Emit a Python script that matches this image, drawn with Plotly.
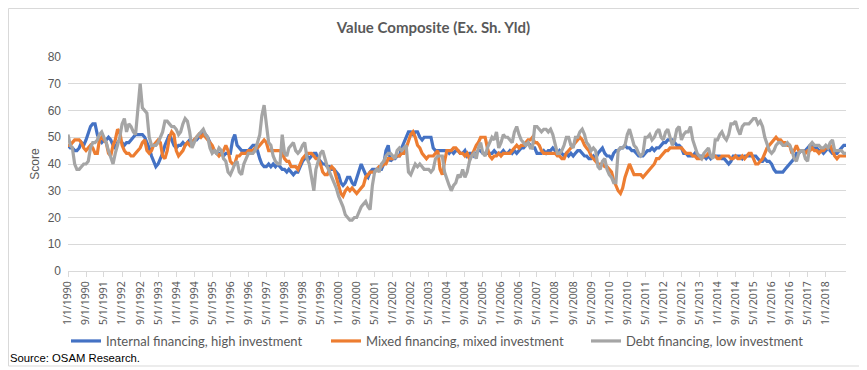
import pandas as pd
import plotly.graph_objects as go

title = "Value Composite (Ex. Sh. Yld)"
series_names = ["Internal financing, high investment",
                "Mixed financing, mixed investment",
                "Debt financing, low investment"]
colors = ["#4472C4", "#ED7D31", "#A5A5A5"]
start_month = "1990-01-01"
last_tick = "2018-01-01"

internal = [
    47, 46, 46, 45, 45, 46, 48, 47, 49, 52, 54, 55,
    55, 51, 49, 48, 49, 49, 50, 49, 47, 46, 48, 49,
    48, 47, 48, 48, 49, 50, 51, 51, 51, 51, 50, 48,
    46, 43, 41, 39, 40, 42, 44, 47, 49, 51, 49, 47,
    46, 47, 47, 48, 47, 48, 49, 48, 49, 49, 50, 51,
    52, 51, 50, 48, 46, 45, 44, 44, 44, 43, 44, 44,
    44, 49, 51, 47, 46, 45, 45, 45, 45, 46, 47, 47,
    45, 42, 40, 39, 39, 40, 39, 40, 39, 40, 39, 38,
    38, 37, 38, 37, 36, 37, 37, 39, 41, 42, 43, 42,
    43, 44, 44, 42, 41, 40, 40, 39, 39, 38, 38, 37,
    36, 33, 32, 33, 35, 35, 33, 32, 35, 38, 40, 38,
    36, 35, 37, 38, 38, 38, 38, 38, 40, 45, 47, 41,
    42, 42, 43, 43, 46, 48, 50, 52, 52, 51, 52, 52,
    50, 49, 50, 50, 50, 50, 46, 45, 45, 45, 45, 45,
    45, 44, 45, 44, 45, 45, 44, 44, 45, 43, 44, 44,
    43, 44, 45, 45, 44, 44, 44, 44, 44, 45, 44, 44,
    44, 45, 44, 44, 45, 44, 45, 44, 45, 46, 46, 47,
    48, 47, 46, 46, 44, 44, 44, 45, 44, 45, 45, 46,
    45, 44, 45, 44, 43, 44, 43, 44, 43, 44, 45, 45,
    44, 43, 43, 42, 42, 43, 42, 44, 45, 46, 44, 43,
    43, 42, 44, 45, 45, 46, 46, 47, 46, 46, 45, 45,
    44, 43, 43, 43, 44, 45, 45, 46, 45, 46, 46, 47,
    48, 48, 49, 49, 49, 48, 47, 47, 46, 44, 44, 43,
    43, 43, 44, 43, 43, 43, 43, 42, 43, 42, 43, 43,
    43, 43, 42, 42, 41, 40, 41, 43, 43, 43, 43, 42,
    43, 43, 43, 43, 43, 43, 42, 41, 41, 42, 41, 41,
    40, 38, 37, 37, 37, 37, 38, 39, 40, 41, 42, 44,
    44, 45, 45, 45, 46, 47, 47, 46, 46, 45, 45, 44,
    45, 46, 45, 44, 44, 44, 45, 46, 47, 47,
]

mixed = [
    47, 47, 48, 49, 49, 49, 48, 46, 45, 46, 47, 46,
    44, 44, 49, 50, 49, 48, 44, 43, 47, 49, 53, 52,
    47, 45, 44, 44, 43, 43, 44, 45, 46, 48, 49, 45,
    44, 45, 47, 48, 49, 48, 43, 42, 45, 50, 52, 51,
    45, 43, 44, 45, 47, 48, 47, 48, 49, 50, 51, 50,
    51, 50, 49, 48, 47, 45, 44, 43, 44, 45, 47, 45,
    41, 40, 40, 43, 43, 44, 44, 44, 45, 45, 45, 46,
    46, 47, 48, 49, 48, 45, 45, 45, 45, 45, 45, 44,
    42, 41, 41, 39, 39, 39, 38, 40, 42, 43, 44, 44,
    44, 43, 42, 42, 40, 37, 36, 36, 38, 39, 38, 35,
    32, 29, 28, 30, 31, 30, 31, 30, 29, 30, 31, 32,
    35, 36, 37, 37, 37, 38, 39, 39, 40, 40, 42, 42,
    42, 43, 43, 43, 44, 44, 46, 49, 51, 52, 50, 47,
    46, 44, 43, 42, 43, 43, 43, 44, 45, 38, 36, 41,
    45, 45, 45, 46, 46, 45, 44, 44, 43, 44, 42, 43,
    45, 47, 48, 50, 50, 50, 46, 43, 42, 43, 43, 44,
    43, 44, 44, 44, 44, 45, 46, 47, 46, 47, 47, 48,
    49, 49, 50, 48, 48, 47, 45, 44, 44, 44, 44, 44,
    44, 43, 43, 42, 42, 44, 45, 46, 47, 48, 49, 50,
    49, 47, 46, 45, 43, 42, 41, 40, 40, 40, 39, 39,
    38, 37, 34, 32, 30, 29, 31, 35, 38, 40, 38, 36,
    36, 36, 36, 35, 36, 37, 38, 39, 40, 42, 42, 43,
    44, 45, 45, 46, 46, 46, 46, 46, 46, 45, 44, 44,
    44, 43, 43, 42, 42, 42, 43, 43, 44, 43, 43, 43,
    42, 42, 43, 43, 43, 43, 42, 42, 43, 42, 42, 43,
    42, 43, 44, 44, 42, 40, 40, 41, 42, 44, 46, 47,
    48, 49, 50, 49, 49, 48, 48, 47, 47, 44, 45, 47,
    45, 45, 45, 44, 45, 45, 46, 45, 45, 44, 45, 45,
    46, 46, 47, 45, 43, 42, 43, 43, 43, 43,
]

debt = [
    51, 47, 46, 40, 38, 38, 39, 40, 40, 41, 46, 48,
    48, 49, 51, 52, 50, 48, 45, 42, 40, 44, 47, 50,
    55, 57, 52, 55, 54, 52, 51, 62, 70, 61, 60, 59,
    50, 47, 47, 47, 48, 50, 52, 56, 56, 55, 54, 54,
    53, 51, 52, 55, 57, 56, 52, 46, 48, 50, 51, 52,
    53, 51, 50, 46, 44, 45, 44, 46, 45, 42, 41, 37,
    36, 38, 40, 41, 37, 36, 40, 42, 44, 44, 44, 45,
    48, 51, 58, 62, 55, 48, 47, 43, 41, 40, 40, 51,
    44, 43, 46, 47, 48, 45, 44, 45, 47, 48, 42, 40,
    34, 30, 38, 41, 44, 45, 42, 39, 37, 35, 33, 31,
    28, 26, 24, 21, 20, 19, 19, 20, 20, 22, 24, 25,
    26, 24, 23, 32, 37, 38, 37, 40, 41, 43, 44, 44,
    43, 42, 45, 46, 45, 46, 47, 37, 36, 38, 40, 39,
    40, 39, 38, 38, 38, 37, 38, 42, 43, 43, 43, 37,
    34, 32, 30, 32, 33, 36, 35, 38, 35, 37, 41, 43,
    44, 42, 46, 48, 44, 43, 46, 48, 50, 49, 52, 46,
    48, 51, 50, 50, 49, 48, 52, 54, 51, 49, 48, 47,
    48, 46, 46, 54, 54, 53, 52, 53, 53, 52, 53, 51,
    47, 44, 44, 45, 47, 50, 50, 47, 46, 50, 50, 52,
    53, 51, 48, 47, 45, 46, 45, 39, 38, 41, 42, 38,
    36, 35, 33, 33, 45, 46, 46, 47, 51, 53, 50, 47,
    46, 44, 43, 44, 50, 50, 51, 49, 50, 52, 53, 50,
    49, 52, 53, 50, 47, 49, 53, 54, 49, 51, 52, 52,
    54, 49, 47, 44, 43, 42, 44, 45, 46, 43, 42, 49,
    49, 51, 52, 50, 49, 51, 55, 55, 56, 53, 51, 54,
    55, 55, 55, 56, 57, 57, 55, 56, 54, 50, 47, 45,
    44, 45, 47, 48, 48, 47, 47, 48, 47, 45, 42, 41,
    44, 45, 45, 42, 41, 47, 48, 47, 47, 47, 46, 46,
    47, 46, 48, 49, 45, 45, 45, 45, 44, 44,
]

dates = pd.date_range(start_month, periods=len(internal), freq="MS")
tick_dates = pd.date_range(start_month, last_tick, freq="8MS")
tick_text = [f"{d.month}/{d.day}/{d.year}" for d in tick_dates]

fig = go.Figure()
for name, vals, col in zip(series_names, [internal, mixed, debt], colors):
    fig.add_trace(go.Scatter(
        x=dates, y=vals, name=name, mode="lines",
        line=dict(color=col, width=3.2),
    ))

# The page body has an 8px margin: the figure's origin sits at page (8, 8).
OFF = 8
W, H = 867 - OFF, 370 - OFF
L, R, T, B = 68 - OFF, 21, 57 - OFF, 99
pw = W - L - R
ph = H - T - B

def px_x(x_page):
    return (x_page - OFF - L) / pw

def px_y(y_page):
    return (H - B - (y_page - OFF)) / ph

grey_txt = "#595959"
fig.update_layout(
    width=W, height=H,
    margin=dict(l=L, r=R, t=T, b=B, autoexpand=False),
    paper_bgcolor="white", plot_bgcolor="white",
    title=dict(text=f"<b>{title}</b>", x=(433.5 - OFF) / W, xanchor="center",
               y=1 - (28 - OFF) / H, yanchor="middle",
               font=dict(family="Lato, Open Sans, sans-serif", size=15, color=grey_txt)),
    showlegend=True,
    legend=dict(orientation="h", x=px_x(66), xanchor="left",
                y=px_y(341), yanchor="middle",
                entrywidth=215, entrywidthmode="pixels",
                font=dict(family="Lato, Open Sans, sans-serif", size=13, color=grey_txt),
                bgcolor="rgba(0,0,0,0)", itemwidth=30),
    xaxis=dict(
        type="date",
        range=[dates[0], dates[-1]],
        tickvals=tick_dates, ticktext=tick_text,
        tickangle=-90,
        ticks="outside", ticklen=5, tickcolor="#d9d9d9", tickwidth=1,
        showline=True, linecolor="#d9d9d9", linewidth=1,
        showgrid=False, zeroline=False,
        tickfont=dict(family="Noto Sans, sans-serif", size=10.5, color=grey_txt),
    ),
    yaxis=dict(
        range=[0, 80], dtick=10, tick0=0,
        showgrid=True, gridcolor="#d9d9d9", gridwidth=1,
        zeroline=False, showline=False, ticks="",
        ticklabelstandoff=6,
        tickfont=dict(family="Liberation Sans Narrow, Liberation Sans, Arial", size=12, color=grey_txt),
        title=dict(text="Score", standoff=5,
                   font=dict(family="Liberation Sans Narrow, Liberation Sans, Arial", size=12, color=grey_txt)),
    ),
    shapes=[dict(type="rect", xref="paper", yref="paper",
                 x0=px_x(8.5), x1=px_x(864), y0=px_y(366), y1=px_y(8.5),
                 line=dict(color="#d9d9d9", width=1), fillcolor="rgba(0,0,0,0)",
                 layer="below")],
    annotations=[dict(text="Source: OSAM Research.", xref="paper", yref="paper",
                      x=px_x(8), y=px_y(358), xanchor="left", yanchor="middle",
                      showarrow=False,
                      font=dict(family="Liberation Sans, Arial", size=11.3, color="black"))],
)

fig.write_html("out.html")
